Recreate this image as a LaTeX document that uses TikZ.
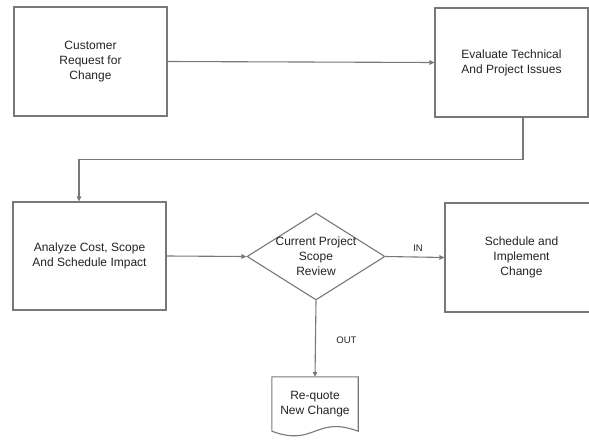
\documentclass[tikz,border=0pt]{standalone}
\usepackage{fontspec}
\setmainfont{Liberation Sans}
\usepackage{tikz}
\usetikzlibrary{shapes.geometric, arrows.meta}
\usepackage{xcolor}

\definecolor{linegray}{RGB}{120,120,120}
\definecolor{textgray}{RGB}{35,35,35}

\tikzset{
    stepbox/.style={rectangle, draw=linegray, line width=1.1pt, fill=white,
        minimum width=153pt, minimum height=109pt, align=center,
        text=textgray, font=\fontsize{12}{15}\selectfont},
    decision/.style={diamond, draw=linegray, line width=1.1pt, fill=white,
        minimum width=138pt, minimum height=87pt, inner sep=0pt},
    docbox/.style={rectangle, minimum width=86pt, minimum height=54pt,
        align=center, text=textgray, font=\fontsize{12}{15}\selectfont},
    link/.style={draw=linegray, line width=1.1pt, -{Triangle[length=5pt, width=4.5pt]}},
    tag/.style={text=textgray, font=\fontsize{9.5}{11}\selectfont}
}

\begin{document}
\begin{tikzpicture}[x=1pt, y=-1pt]
    \clip (0,0) rectangle (589,441);

    % Draw the process boxes
    \node[stepbox] (request) at (90.5,61.5) {Customer\\Request for\\Change};
    \node[stepbox] (evaluate) at (511.5,62.5) {Evaluate Technical\\And Project Issues};
    \node[stepbox, minimum height=108pt] (analyze) at (89.5,256) {Analyze Cost, Scope\\And Schedule Impact};
    \node[stepbox] (implement) at (521.5,257.5) {Schedule and\\Implement\\Change};

    % Decision and its text
    \node[decision] (review) at (316,256.5) {};
    \node[align=center, text=textgray, font=\fontsize{12}{15}\selectfont] (reviewtext) at (review.center) {Current Project\\Scope\\Review};

    % Document with wavy bottom
    \node[docbox] (requote) at (315,404) {Re-quote\\New Change};
    \draw[draw=linegray, line width=1.1pt] (requote.south west) -- (requote.north west) -- (requote.north east) -- (requote.south east)
        .. controls +(-43,-16) and +(43,16) .. (requote.south west);

    % Connect the steps
    \draw[link] (request.east) -- (evaluate.west);
    \draw[link] ([xshift=11.5pt]evaluate.south) -- ++(0,42) -| ([xshift=-10.5pt]analyze.north);
    \draw[link] (analyze.east) -- (review.west);
    \draw[link] (review.east) -- node[tag, above, yshift=2pt, xshift=3pt] (inlabel) {IN} (implement.west);
    \draw[link] (review.south) -- node[tag, right, xshift=17pt, yshift=-2pt] (outlabel) {OUT} (requote.north);
\end{tikzpicture}
\end{document}
